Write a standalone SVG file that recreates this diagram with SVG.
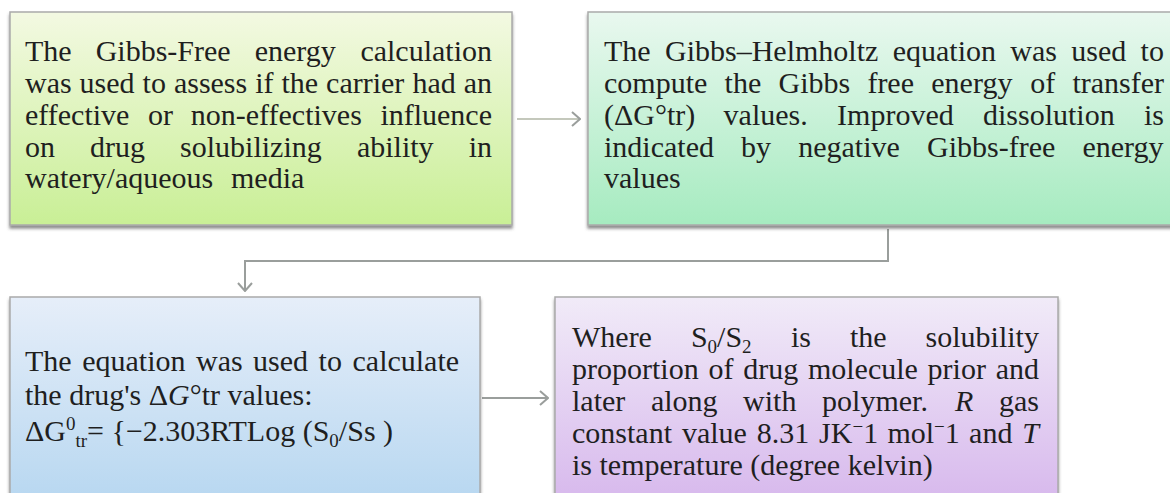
<svg xmlns="http://www.w3.org/2000/svg" width="1170" height="493" viewBox="0 0 1170 493">
<style>
.t{font-family:"Liberation Serif","Times New Roman",serif;font-size:30px;fill:#1f1f1f}
.box{stroke:#aaaaaa;stroke-width:1.5}
.con{fill:none;stroke:#9a9e9c;stroke-width:2}
.sm{font-size:19px}
</style>
<defs>
<linearGradient id="g1" x1="0" y1="0" x2="0" y2="1"><stop offset="0" stop-color="#f3f9e2"/><stop offset="1" stop-color="#c9ef96"/></linearGradient>
<linearGradient id="g2" x1="0" y1="0" x2="0" y2="1"><stop offset="0" stop-color="#e9f8ef"/><stop offset="1" stop-color="#a6ebc0"/></linearGradient>
<linearGradient id="g3" x1="0" y1="0" x2="0" y2="1"><stop offset="0" stop-color="#e6eef9"/><stop offset="1" stop-color="#b5d6f0"/></linearGradient>
<linearGradient id="g4" x1="0" y1="0" x2="0" y2="1"><stop offset="0" stop-color="#f1ebf8"/><stop offset="1" stop-color="#d6b6ec"/></linearGradient>
<filter id="sh" x="-5%" y="-5%" width="110%" height="115%"><feDropShadow dx="0" dy="3" stdDeviation="1.5" flood-color="#444" flood-opacity="0.6"/></filter>
<marker id="ah" viewBox="0 0 10 16" refX="9" refY="8" markerWidth="10" markerHeight="16" markerUnits="userSpaceOnUse" orient="auto"><path d="M1,1 L9,8 L1,15" fill="none" stroke="#9a9e9c" stroke-width="2"/></marker>
</defs>

<g id="connectors">
<line class="con" x1="517" y1="119" x2="580" y2="119" marker-end="url(#ah)" style="stroke:#c4c8bc"/>
<polyline class="con" points="888,229 888,261 245,261 245,291" marker-end="url(#ah)"/>
<line class="con" x1="482" y1="398" x2="548" y2="398" marker-end="url(#ah)"/>
</g>

<g id="node1">
<rect class="box" x="10" y="12" width="502" height="213" fill="url(#g1)" filter="url(#sh)"/>
<text class="t" y="61"><tspan x="25">The</tspan><tspan x="95.7">Gibbs-Free</tspan><tspan x="254.7">energy</tspan><tspan x="360.4">calculation</tspan></text>
<text class="t" y="93"><tspan x="25">was</tspan><tspan x="79.6">used</tspan><tspan x="142.6">to</tspan><tspan x="173.9">assess</tspan><tspan x="255.2">if</tspan><tspan x="281.5">the</tspan><tspan x="326.1">carrier</tspan><tspan x="412.4">had</tspan><tspan x="463.7">an</tspan></text>
<text class="t" y="125"><tspan x="25">effective</tspan><tspan x="147.9">or</tspan><tspan x="190.8">non-effectives</tspan><tspan x="380.4">influence</tspan></text>
<text class="t" y="156.5"><tspan x="25">on</tspan><tspan x="90.1">drug</tspan><tspan x="180.1">solubilizing</tspan><tspan x="356.9">ability</tspan><tspan x="468.7">in</tspan></text>
<text class="t" y="188"><tspan x="25">watery/aqueous</tspan><tspan x="231">media</tspan></text>
</g>

<g id="node2">
<rect class="box" x="588" y="12" width="600" height="213" fill="url(#g2)" filter="url(#sh)"/>
<text class="t" y="61"><tspan x="604">The</tspan><tspan x="665">Gibbs–Helmholtz</tspan><tspan x="892.7">equation</tspan><tspan x="1010.3">was</tspan><tspan x="1071.3">used</tspan><tspan x="1140.6">to</tspan></text>
<text class="t" y="93"><tspan x="604">compute</tspan><tspan x="724.6">the</tspan><tspan x="778.5">Gibbs</tspan><tspan x="867.4">free</tspan><tspan x="931.3">energy</tspan><tspan x="1030.2">of</tspan><tspan x="1072.4">transfer</tspan></text>
<text class="t" y="125"><tspan x="604">(ΔG°tr)</tspan><tspan x="723.6">values.</tspan><tspan x="837.1">Improved</tspan><tspan x="983">dissolution</tspan><tspan x="1144">is</tspan></text>
<text class="t" y="156.5"><tspan x="604">indicated</tspan><tspan x="741.1">by</tspan><tspan x="798.2">negative</tspan><tspan x="927">Gibbs-free</tspan><tspan x="1082.4">energy</tspan></text>
<text class="t" y="188"><tspan x="604">values</tspan></text>
</g>

<g id="node3">
<rect class="box" x="10" y="297" width="470" height="215" fill="url(#g3)" filter="url(#sh)"/>
<text class="t" y="371"><tspan x="25">The</tspan><tspan x="82.2">equation</tspan><tspan x="196">was</tspan><tspan x="253.1">used</tspan><tspan x="318.6">to</tspan><tspan x="352.5">calculate</tspan></text>
<text class="t" x="25" y="405">the drug's Δ<tspan font-style="italic">G</tspan>°tr values:</text>
<text class="t" x="25" y="441">ΔG<tspan class="sm" dy="-11">0</tspan><tspan class="sm" dy="17">tr</tspan><tspan dy="-6">= {−2.303RTLog  (S</tspan><tspan class="sm" dy="6">0</tspan><tspan dy="-6">/Ss )</tspan></text>
</g>

<g id="node4">
<rect class="box" x="555" y="297" width="503" height="215" fill="url(#g4)" filter="url(#sh)"/>
<text class="t" y="347"><tspan x="572">Where</tspan><tspan x="690.9">S<tspan class="sm" dy="6">0</tspan><tspan dy="-6">/S</tspan><tspan class="sm" dy="6">2</tspan></tspan><tspan x="791" dy="-6">is</tspan><tspan x="850">the</tspan><tspan x="925.6">solubility</tspan></text>
<text class="t" y="379"><tspan x="572">proportion</tspan><tspan x="708.4">of</tspan><tspan x="743.2">drug</tspan><tspan x="807.9">molecule</tspan><tspan x="927.6">prior</tspan><tspan x="995.7">and</tspan></text>
<text class="t" y="411"><tspan x="572">later</tspan><tspan x="650.9">along</tspan><tspan x="743.1">with</tspan><tspan x="822.1">polymer.</tspan><tspan x="955.1" font-style="italic">R</tspan><tspan x="999">gas</tspan></text>
<text class="t" y="443"><tspan x="572">constant</tspan><tspan x="681.9">value</tspan><tspan x="756.7">8.31</tspan><tspan x="819.1">JK<tspan class="sm" dy="-10">−</tspan><tspan dy="10">1</tspan></tspan><tspan x="887.4">mol<tspan class="sm" dy="-10">−</tspan><tspan dy="10">1</tspan></tspan><tspan x="969.1">and</tspan><tspan x="1022.3" font-style="italic">T</tspan></text>
<text class="t" x="572" y="475">is temperature  (degree kelvin)</text>
</g>
</svg>
